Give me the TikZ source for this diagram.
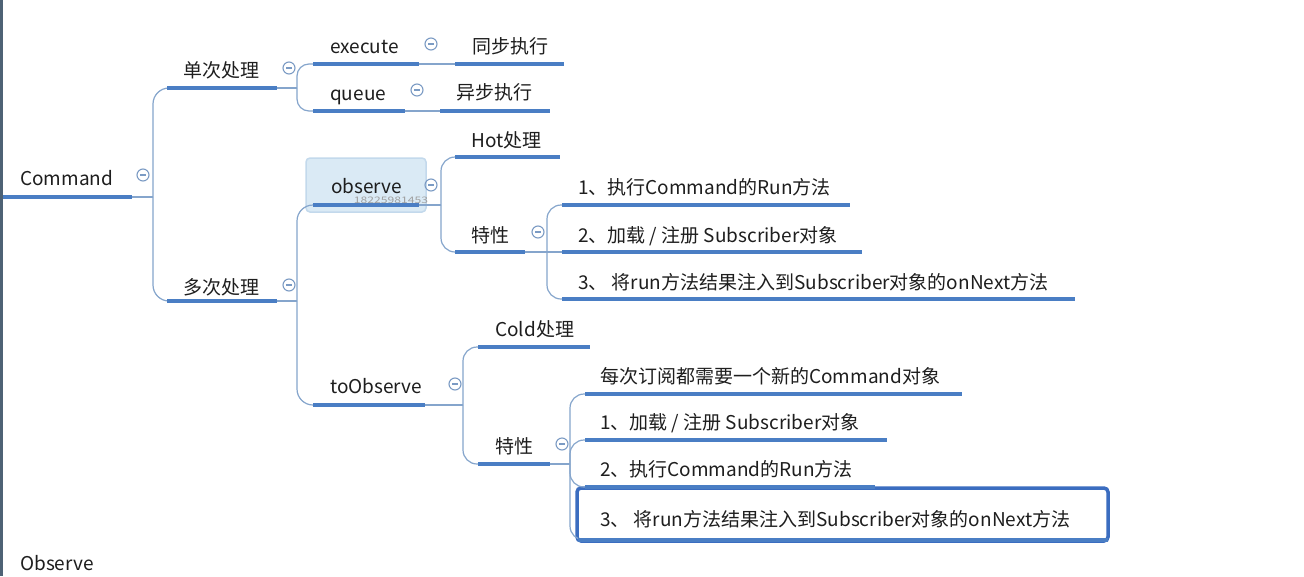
\documentclass[tikz,border=0pt]{standalone}
\usepackage{fontspec}
\setmainfont{Noto Sans CJK SC}
\definecolor{thickc}{HTML}{4A7EC4}
\definecolor{thinc}{HTML}{85A5CC}
\definecolor{minc}{HTML}{7B9BC4}
\definecolor{obsf}{HTML}{DAEAF5}
\definecolor{obsb}{HTML}{C3D9EC}
\definecolor{boxc}{HTML}{3B6DC0}
\definecolor{leftc}{HTML}{4E6275}
\definecolor{txt}{HTML}{1E1E1E}
\tikzset{
  lbl/.style={anchor=west, inner sep=0pt, font=\fontsize{19}{21}\selectfont, text=txt, text height=14pt, text depth=2pt},
  uline/.style={draw=thickc, line width=3.2pt},
  conn/.style={draw=thinc, line width=1.2pt, rounded corners=12pt},
  minusc/.style={circle, draw=minc, line width=1.1pt, minimum size=12pt, inner sep=0pt,
    path picture={\draw[minc, line width=1.1pt] ([xshift=-3pt]path picture bounding box.center) -- ([xshift=3pt]path picture bounding box.center);}}
}
\begin{document}
\begin{tikzpicture}[x=1pt,y=-1pt]
\useasboundingbox (0,0) rectangle (1304,576);
\fill[white] (0,0) rectangle (1304,576);
\fill[leftc] (0,0) rectangle (3,576);

% observe highlight box
\node[draw=obsb, fill=obsf, rounded corners=4pt, line width=1.5pt, minimum width=120pt, minimum height=54pt, inner sep=0pt] (obsbox) at (366,185) {};
% last highlighted item box
\node[draw=boxc, line width=3.5pt, rounded corners=4pt, minimum width=531pt, minimum height=53pt, inner sep=0pt] (hlbox) at (842.5,514.5) {};

% coordinates of underlines
\coordinate (cmdA) at (3,197);   \coordinate (cmdB) at (132,197);  \coordinate (cmdJ) at (153,197);
\coordinate (danA) at (167,88);  \coordinate (danB) at (277,88);   \coordinate (danJ) at (297,88);
\coordinate (duoA) at (167,301); \coordinate (duoB) at (277,301);  \coordinate (duoJ) at (297,301);
\coordinate (exeA) at (313,64);  \coordinate (exeB) at (419,64);
\coordinate (queA) at (313,111); \coordinate (queB) at (405,111);
\coordinate (tbA) at (455,64);   \coordinate (tbB) at (564,64);
\coordinate (ybA) at (440,111);  \coordinate (ybB) at (550,111);
\coordinate (obsA) at (313,205); \coordinate (obsB) at (419,205);  \coordinate (obsJ) at (441,205);
\coordinate (tobA) at (313,405); \coordinate (tobB) at (425,405);  \coordinate (tobJ) at (463,405);
\coordinate (hotA) at (455,157); \coordinate (hotB) at (560,157);
\coordinate (txaA) at (455,252); \coordinate (txaB) at (525,252);  \coordinate (txaJ) at (547,252);
\coordinate (a1A) at (562,205);  \coordinate (a1B) at (850,205);
\coordinate (a2A) at (562,252);  \coordinate (a2B) at (862,252);
\coordinate (a3A) at (562,299);  \coordinate (a3B) at (1075,299);
\coordinate (coldA) at (478,347); \coordinate (coldB) at (590,347);
\coordinate (txbA) at (478,464); \coordinate (txbB) at (550,464);  \coordinate (txbJ) at (570,464);
\coordinate (b0A) at (585,394);  \coordinate (b0B) at (962,394);
\coordinate (b1A) at (585,440);  \coordinate (b1B) at (887,440);
\coordinate (b2A) at (585,487);  \coordinate (b2B) at (875,487);
\coordinate (b3A) at (578,540);  \coordinate (b3B) at (1108,540);

% connectors
\draw[conn] (cmdB) -- (cmdJ);
\draw[conn, rounded corners=16pt] (cmdJ) |- (danA);
\draw[conn, rounded corners=16pt] (cmdJ) |- (duoA);
\draw[conn] (danB) -- (danJ);
\draw[conn] (danJ) |- (exeA);
\draw[conn] (danJ) |- (queA);
\draw[conn] (exeB) -- (tbA);
\draw[conn] (queB) -- (ybA);
\draw[conn] (duoB) -- (duoJ);
\draw[conn, rounded corners=16pt] (duoJ) |- (obsA);
\draw[conn, rounded corners=16pt] (duoJ) |- (tobA);
\draw[conn] (obsB) -- (obsJ);
\draw[conn, rounded corners=14pt] (obsJ) |- (hotA);
\draw[conn, rounded corners=14pt] (obsJ) |- (txaA);
\draw[conn] (txaB) -- (txaJ);
\draw[conn, rounded corners=14pt] (txaJ) |- (a1A);
\draw[conn] (txaJ) -- (a2A);
\draw[conn, rounded corners=14pt] (txaJ) |- (a3A);
\draw[conn] (tobB) -- (tobJ);
\draw[conn, rounded corners=14pt] (tobJ) |- (coldA);
\draw[conn, rounded corners=14pt] (tobJ) |- (txbA);
\draw[conn] (txbB) -- (txbJ);
\draw[conn, rounded corners=14pt] (txbJ) |- (b0A);
\draw[conn, rounded corners=14pt] (txbJ) |- (b1A);
\draw[conn, rounded corners=14pt] (txbJ) |- (b2A);
\draw[conn, rounded corners=14pt] (txbJ) |- (b3A);

% underlines
\foreach \u in {cmd,dan,duo,exe,que,tb,yb,obs,tob,hot,txa,a1,a2,a3,cold,txb,b0,b1,b2,b3}
  \draw[uline] (\u A) -- (\u B);

% labels
\node[lbl] (cmd) at (20,179) {Command};
\node[lbl] (dan) at (183,71) {单次处理};
\node[lbl] (duo) at (183,288) {多次处理};
\node[lbl] (exe) at (330,47) {execute};
\node[lbl] (que) at (330,94) {queue};
\node[lbl] (tb) at (472,47) {同步执行};
\node[lbl] (yb) at (456,93) {异步执行};
\node[lbl] (obs) at (331,187) {observe};
\node[font=\fontsize{9}{10}\selectfont, text=gray!75, inner sep=0pt, xscale=1.35] (num) at (391,200) {18225981453};
\node[lbl] (tob) at (330,387) {toObserve};
\node[lbl] (hot) at (471,141) {Hot处理};
\node[lbl] (txa) at (471,236) {特性};
\node[lbl] (a1) at (578,188) {1、执行Command的Run方法};
\node[lbl] (a2) at (578,236) {2、加载 / 注册 Subscriber对象};
\node[lbl] (a3) at (578,283) {3、 将run方法结果注入到Subscriber对象的onNext方法};
\node[lbl] (cold) at (495,330) {Cold处理};
\node[lbl] (txb) at (495,447) {特性};
\node[lbl] (b0) at (600,377) {每次订阅都需要一个新的Command对象};
\node[lbl] (b1) at (600,423) {1、加载 / 注册 Subscriber对象};
\node[lbl] (b2) at (600,470) {2、执行Command的Run方法};
\node[lbl] (b3) at (600,520) {3、 将run方法结果注入到Subscriber对象的onNext方法};
\node[lbl] (obsv) at (20,564) {Observe};

% collapse markers
\node[minusc] (m1) at (143,175) {};
\node[minusc] (m2) at (289,68) {};
\node[minusc] (m3) at (289,285) {};
\node[minusc] (m4) at (431,44) {};
\node[minusc] (m5) at (417,90) {};
\node[minusc] (m6) at (431,185) {};
\node[minusc] (m7) at (538,232) {};
\node[minusc] (m8) at (455,384) {};
\node[minusc] (m9) at (562,444) {};
\end{tikzpicture}
\end{document}
